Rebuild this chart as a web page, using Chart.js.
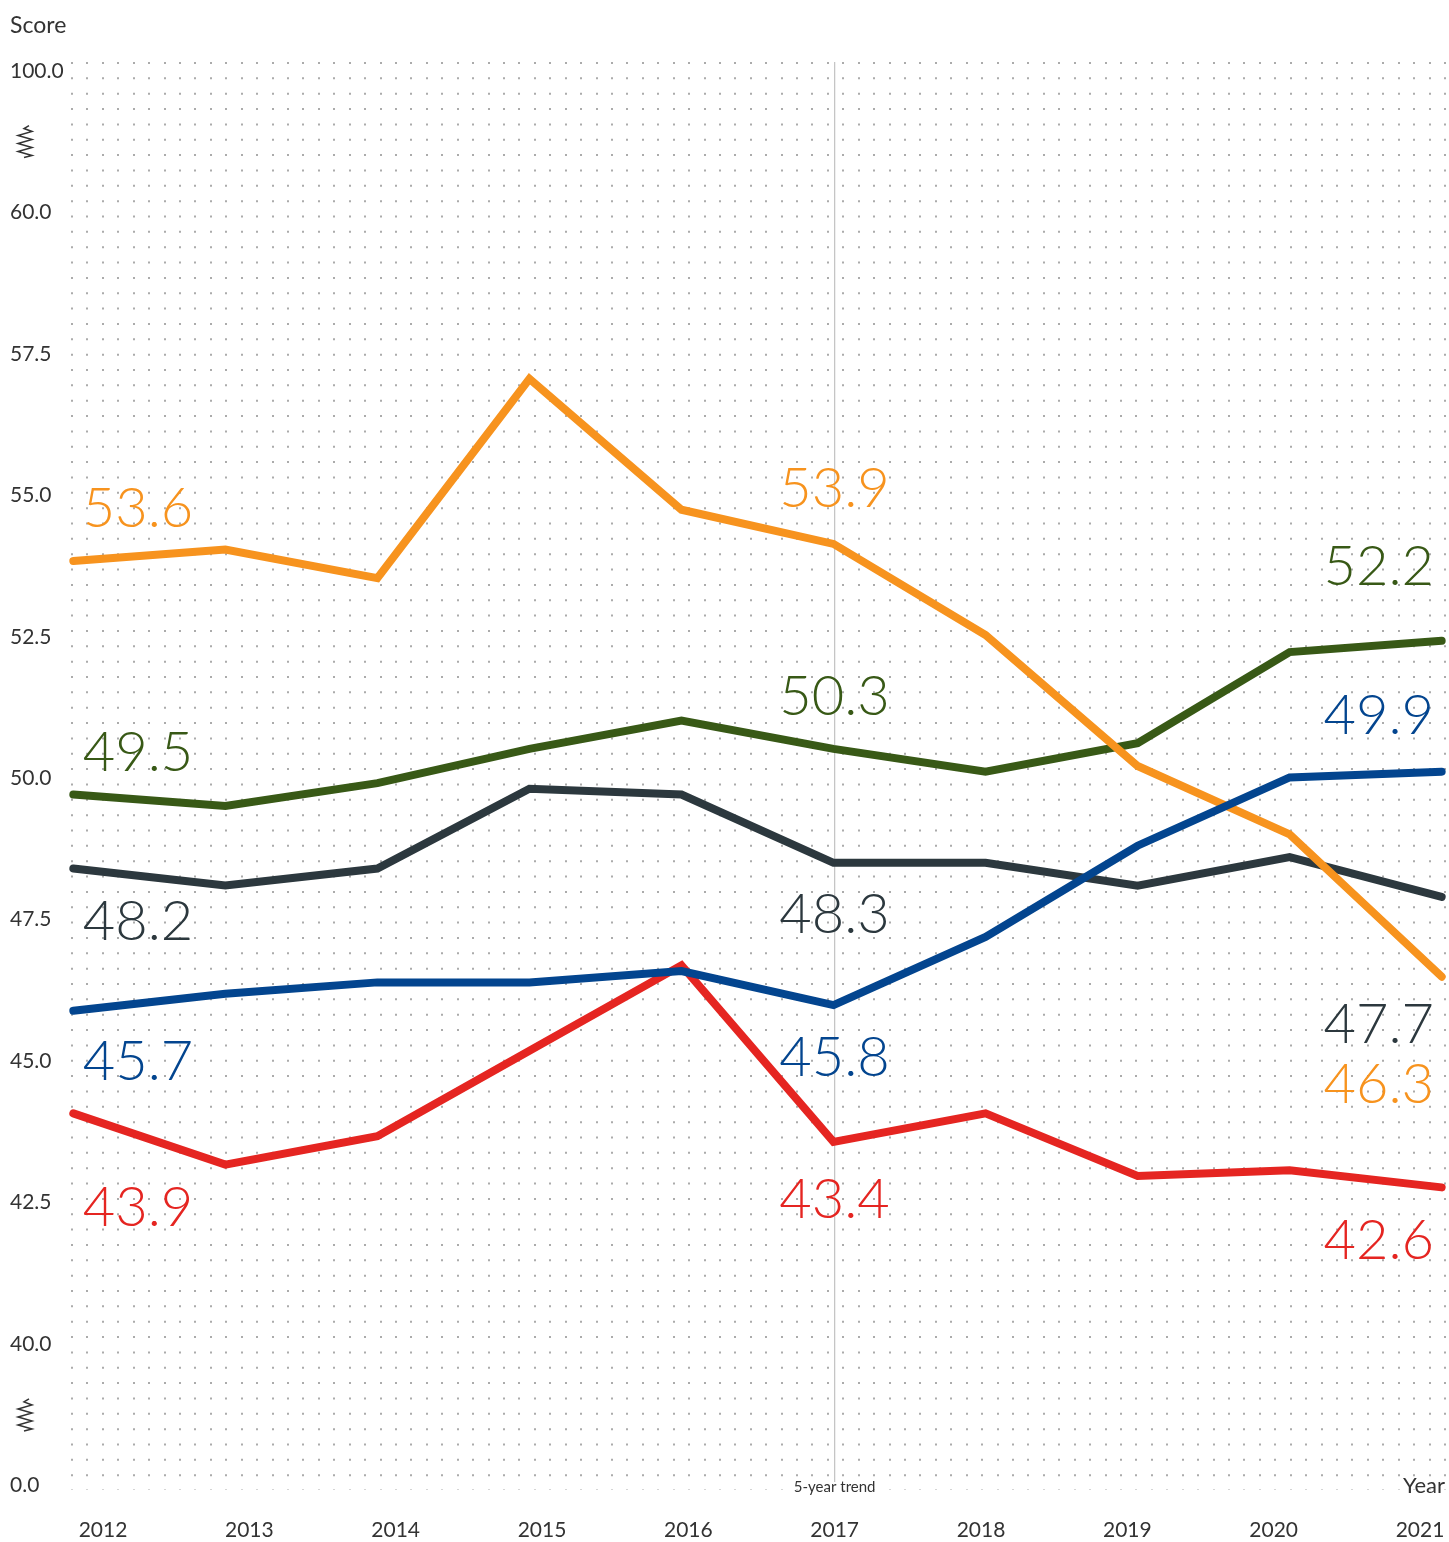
<!DOCTYPE html>
<html>
<head>
<meta charset="utf-8">
<script src="https://cdn.jsdelivr.net/npm/chart.js@4.4.1/dist/chart.umd.min.js"></script>
<style>
  html, body { margin: 0; padding: 0; background: #ffffff; }
  #wrap { width: 1449px; height: 1542px; position: relative; }
  canvas { display: block; }
</style>
</head>
<body>
<div id="wrap"><canvas id="chart" width="1449" height="1542"></canvas></div>
<script>
// ---------------- DATA ----------------
const years = ['2012', '2013', '2014', '2015', '2016', '2017', '2018', '2019', '2020', '2021'];
const yTickLabels = ['0.0', '40.0', '42.5', '45.0', '47.5', '50.0', '52.5', '55.0', '57.5', '60.0', '100.0'];

const blueSeries   = [45.7, 46.0, 46.2, 46.2, 46.4, 45.8, 47.0, 48.6, 49.8, 49.9];
const orangeSeries = [53.6, 53.8, 53.3, 56.8, 54.5, 53.9, 52.3, 50.0, 48.8, 46.3];
const greenSeries  = [49.5, 49.3, 49.7, 50.3, 50.8, 50.3, 49.9, 50.4, 52.0, 52.2];
const darkSeries   = [48.2, 47.9, 48.2, 49.6, 49.5, 48.3, 48.3, 47.9, 48.4, 47.7];
const redSeries    = [43.9, 43.0, 43.5, 45.0, 46.5, 43.4, 43.9, 42.8, 42.9, 42.6];

const labelledIndices = [0, 5, 9];   // years that carry a value label
const trendIndex = 5;                // 2017: "5-year trend" marker

// ---------------- STYLE ----------------
const FONT = "Lato, 'Open Sans', 'Noto Sans', sans-serif";
const TEXT = '#333333';
const series = [
  { name: 'Blue',   values: blueSeries,   color: '#03458f', dy: [48.5, 51, -57.7] },
  { name: 'Orange', values: orangeSeries, color: '#f7931e', dy: [-54, -57.3, 105.7] },
  { name: 'Green',  values: greenSeries,  color: '#385916', dy: [-43.3, -53.8, -76] },
  { name: 'Dark',   values: darkSeries,   color: '#2c383e', dy: [51.6, 50, 126.3] },
  { name: 'Red',    values: redSeries,    color: '#e52521', dy: [92.2, 55.8, 51.3] }
];
const labelAlign = ['left', 'center', 'right'];
const labelDx = [9.4, 1, -7.7];
const LABEL_SIZE = 56;

const datasets = series.map(s => ({
  label: s.name,
  data: s.values.map((v, i) => ({ x: i, y: v })),
  borderColor: s.color,
  backgroundColor: s.color,
  borderWidth: 8,
  borderCapStyle: 'round',
  borderJoinStyle: 'miter',
  pointRadius: 0,
  pointHoverRadius: 0,
  tension: 0,
  fill: false,
  clip: false,
  xAxisID: 'x',
  yAxisID: 'y'
}));

function drawBreak(ctx, cx, cy) {
  const pts = [[4,-16],[-1,-13],[7,-10],[-7,-6],[7,-2],[-7,2],[7,6],[-7,10],[7,14],[-1,16]];
  ctx.save();
  ctx.strokeStyle = TEXT;
  ctx.lineWidth = 1.5;
  ctx.lineJoin = 'miter';
  ctx.beginPath();
  pts.forEach((p, k) => {
    if (k === 0) ctx.moveTo(cx + p[0], cy + p[1]); else ctx.lineTo(cx + p[0], cy + p[1]);
  });
  ctx.stroke();
  ctx.restore();
}

const annotate = {
  id: 'annotate',
  beforeDatasetsDraw(chart) {
    const { ctx, chartArea, scales } = chart;
    const px = scales.xl.getPixelForValue(trendIndex);
    ctx.save();
    ctx.strokeStyle = '#c2c2c2';
    ctx.lineWidth = 1.2;
    ctx.beginPath();
    ctx.moveTo(px, chartArea.top);
    ctx.lineTo(px, chartArea.bottom - 8);
    ctx.stroke();
    ctx.fillStyle = TEXT;
    ctx.font = '15px ' + FONT;
    ctx.textAlign = 'center';
    ctx.textBaseline = 'alphabetic';
    ctx.fillText('5-year trend', px, chartArea.bottom + 2);
    ctx.restore();
  },
  afterDatasetsDraw(chart) {
    const { ctx, chartArea, scales } = chart;
    ctx.save();
    // value labels
    ctx.font = '300 ' + LABEL_SIZE + 'px ' + FONT;
    ctx.textBaseline = 'alphabetic';
    series.forEach(s => {
      labelledIndices.forEach((idx, k) => {
        const x = scales.x.getPixelForValue(idx) + labelDx[k];
        const y = scales.y.getPixelForValue(s.values[idx]) + s.dy[k] + LABEL_SIZE * 0.36;
        ctx.fillStyle = s.color;
        ctx.textAlign = labelAlign[k];
        ctx.fillText(s.values[idx].toFixed(1), x, y);
      });
    });
    // axis titles
    ctx.fillStyle = TEXT;
    ctx.font = '23px ' + FONT;
    ctx.textAlign = 'left';
    ctx.fillText('Score', 10, 33);
    ctx.font = '22px ' + FONT;
    ctx.textAlign = 'right';
    ctx.fillText('Year', chartArea.right, chartArea.bottom + 3);
    ctx.restore();
    // axis break marks
    const yl = scales.yl;
    drawBreak(ctx, 25, yl.getPixelForValue(9.5));
    drawBreak(ctx, 25, yl.getPixelForValue(0.5));
  }
};

new Chart(document.getElementById('chart'), {
  type: 'line',
  data: { datasets },
  plugins: [annotate],
  options: {
    responsive: false,
    animation: false,
    devicePixelRatio: 1,
    layout: { padding: { left: 10, right: 4, top: 62, bottom: 0 } },
    plugins: { legend: { display: false }, tooltip: { enabled: false }, title: { display: false } },
    events: [],
    scales: {
      x: { type: 'linear', display: false, bounds: 'data', min: -0.00855, max: 9.0218 },
      y: { type: 'linear', display: false, bounds: 'data', min: 37.285, max: 62.364 },
      xd: {
        type: 'linear', position: 'bottom', bounds: 'data', min: 0, max: 89,
        afterBuildTicks: a => { a.ticks = Array.from({ length: 90 }, (_, i) => ({ value: i })); },
        ticks: { display: false },
        grid: { display: true, drawTicks: false, color: '#ababab', lineWidth: 2 },
        border: { display: false, dash: [2, 13.35] },
        afterFit: a => { a.height = 0; a.paddingLeft = 0; a.paddingRight = 0; }
      },
      xl: {
        type: 'linear', position: 'bottom', bounds: 'data', min: -0.2118, max: 9.1709,
        afterBuildTicks: a => { a.ticks = years.map((_, i) => ({ value: i })); },
        ticks: {
          callback: (v, i) => years[i], autoSkip: false, maxRotation: 0, minRotation: 0,
          padding: 28, color: TEXT, font: { family: FONT, size: 21 }
        },
        grid: { display: false, drawTicks: false },
        border: { display: false },
        afterFit: a => { a.height = 52; a.paddingLeft = 0; a.paddingRight = 0; }
      },
      yl: {
        type: 'linear', position: 'left', bounds: 'data', min: -0.0304, max: 10.062,
        afterBuildTicks: a => { a.ticks = yTickLabels.map((_, i) => ({ value: i })); },
        ticks: {
          callback: (v, i) => yTickLabels[i], autoSkip: false, crossAlign: 'far',
          padding: 0, color: TEXT, font: { family: FONT, size: 21 }
        },
        grid: { display: false, drawTicks: false },
        border: { display: false },
        afterFit: a => { a.width = 62; a.paddingTop = 0; a.paddingBottom = 0; }
      }
    }
  }
});
</script>
</body>
</html>
